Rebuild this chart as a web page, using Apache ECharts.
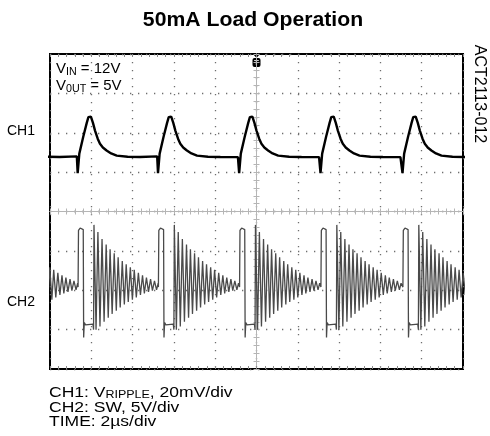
<!DOCTYPE html>
<html>
<head>
<meta charset="utf-8">
<script src="https://cdn.jsdelivr.net/npm/echarts@6/dist/echarts.min.js"></script>
<style>
  html, body { margin: 0; padding: 0; background: #fff; }
  #chart { width: 490px; height: 436px; }
</style>
</head>
<body>
<div id="chart"></div>
<script>
// time in us (2us/div, 10 div), CH1 in mV (20mV/div), CH2 in V (5V/div)
// rising edges of SW (first one is the previous cycle, off screen)
const pulseStarts = [-2.54, 1.36, 5.25, 9.18, 13.12, 17.09]

// CH1 ripple around one switching edge, offset from the edge
const ch1T = [-0.06, -0.03, -0.02, 0.06, 0.25, 0.42, 0.5, 0.56, 0.62, 0.72, 0.82, 0.95, 1.06, 1.2, 1.38, 1.6, 1.87, 2.4, 3.0, 3.85]
const ch1V = [-12, -12.4, -20.5, -10.6, -2, 5, 7.9, 8.7, 8.2, 5, 1.1, -3, -5.6, -7.5, -9, -10.5, -11.6, -12.2, -12.3, -12.4]

// CH2 switch node: high pulse, low, then ringing (tops / bottoms)
const ch2T = [0, 0.02, 0.1, 0.25, 0.27, 0.3, 0.36, 0.72, 0.75,
  0.77, 0.87, 0.96, 1.06, 1.16, 1.26, 1.36, 1.46, 1.55, 1.65, 1.75, 1.85, 1.94, 2.04, 2.14, 2.24,
  2.33, 2.43, 2.53, 2.63, 2.72, 2.82, 2.92, 3.02, 3.12, 3.21, 3.31, 3.41, 3.51, 3.60, 3.70, 3.80, 3.88]
const ch2V = [4.8, 12.0, 12.3, 12.1, -1.6, 0.3, 0.0, 0.1, -0.6,
  12.7, -0.6, 11.8, -0.2, 10.9, 0.4, 10.2, 0.9, 9.6, 1.4, 9.1, 1.8, 8.6, 2.2, 8.1, 2.6,
  7.7, 2.9, 7.3, 3.2, 7.0, 3.5, 6.6, 3.8, 6.3, 4.0, 6.0, 4.2, 5.8, 4.35, 5.6, 4.45, 5.3]

function buildTrace(shapeT, shapeV) {
  let out = []
  pulseStarts.forEach((s, i) => {
    let next = i + 1 < pulseStarts.length ? pulseStarts[i + 1] + shapeT[0] : Infinity
    shapeT.forEach((dt, j) => {
      if (s + dt < next) out.push([s + dt, shapeV[j]])
    })
  })
  return out
}

const dotted = {show: true, lineStyle: {color: '#6e6e6e', width: 1.3, type: [1.3, 6.7]}}
const font = 'Liberation Sans'

function centerX(inside) {
  return {
    type: 'value', min: 0, max: 20, interval: 2, position: 'bottom',
    axisLine: {show: true, onZero: true, onZeroAxisIndex: 0, lineStyle: {color: '#b5b5b5', width: 1}},
    axisTick: {show: true, inside: inside, length: 3, lineStyle: {color: '#b5b5b5'}},
    minorTick: {show: true, splitNumber: 5, length: 3, lineStyle: {color: '#b5b5b5'}},
    axisLabel: {show: false}, splitLine: {show: false}
  }
}
function centerY(inside) {
  return {
    type: 'value', min: -4, max: 4, interval: 1, position: 'left',
    axisLine: {show: true, onZero: true, onZeroAxisIndex: 3, lineStyle: {color: '#b5b5b5', width: 1}},
    axisTick: {show: true, inside: inside, length: 3, lineStyle: {color: '#b5b5b5'}},
    minorTick: {show: true, splitNumber: 5, length: 3, lineStyle: {color: '#b5b5b5'}},
    axisLabel: {show: false}, splitLine: {show: false}
  }
}

let chart = echarts.init(document.getElementById('chart'), null, {renderer: 'canvas'})
chart.setOption({
  animation: false,
  backgroundColor: '#fff',
  textStyle: {fontFamily: font},
  grid: {left: 50, right: 27, top: 54, bottom: 67, show: true, borderColor: '#000', borderWidth: 2, backgroundColor: 'transparent'},
  xAxis: [
    {type: 'value', min: 0, max: 20, interval: 2, position: 'bottom',
      axisLine: {show: false, onZero: false}, axisLabel: {show: false},
      axisTick: {show: true, inside: true, length: 3, lineStyle: {color: '#8a8a8a'}},
      minorTick: {show: true, splitNumber: 5, length: 3, lineStyle: {color: '#8a8a8a'}},
      splitLine: dotted},
    centerX(false),
    centerX(true),
    {type: 'value', min: -5, max: 5, show: false},
    {type: 'value', min: 0, max: 20, interval: 2, position: 'top',
      axisLine: {show: false, onZero: false}, axisLabel: {show: false},
      axisTick: {show: true, inside: true, length: 3, lineStyle: {color: '#8a8a8a'}},
      minorTick: {show: true, splitNumber: 5, length: 3, lineStyle: {color: '#8a8a8a'}},
      splitLine: {show: false}}
  ],
  yAxis: [
    {type: 'value', min: -4, max: 4, interval: 1, axisLine: {show: false, onZero: false},
      axisLabel: {show: false}, axisTick: {show: false}, splitLine: dotted},
    centerY(false),
    centerY(true),
    {type: 'value', min: -120, max: 40, show: false},
    {type: 'value', min: -5.6, max: 34.4, show: false}
  ],
  graphic: [
    {type: 'text', x: 253, y: 20, scaleX: 1.06, style: {
      text: '50mA Load Operation', fontSize: 20, fontWeight: 'bold', fill: '#000', fontFamily: font,
      align: 'center', verticalAlign: 'middle'}},
    {type: 'text', left: 7, top: 124, style: {text: 'CH1', fontSize: 14, fill: '#000', fontFamily: font}},
    {type: 'text', left: 7, top: 295, style: {text: 'CH2', fontSize: 14, fill: '#000', fontFamily: font}},
    {type: 'text', x: 56, y: 61, scaleX: 1.07, style: {
      text: '{v|V}{s|IN}{v| = 12V}\n{v|V}{s|0UT}{v| = 5V}', fill: '#000', fontFamily: font,
      rich: {
        v: {fontSize: 14, lineHeight: 17, fontFamily: font},
        s: {fontSize: 10, lineHeight: 17, padding: [6, 0, 0, 0], fontFamily: font}
      }
    }},
    {type: 'text', x: 479, y: 94, rotation: -Math.PI / 2, style: {
      text: 'ACT2113-012', fontSize: 16, fill: '#000', align: 'center', verticalAlign: 'middle', fontFamily: font}},
    {type: 'text', x: 49, y: 386, scaleX: 1.25, style: {
      text: '{v|CH1: V}{s|RIPPLE}{v|, 20mV/div}\n{v|CH2: SW, 5V/div}\n{v|TIME: 2µs/div}', fill: '#000',
      rich: {
        v: {fontSize: 14, lineHeight: 14.5, fontFamily: font},
        s: {fontSize: 10, lineHeight: 14.5, padding: [4, 0, 0, 0], fontFamily: font}
      }
    }},
    // trigger marker
    {type: 'polygon', shape: {points: [[253, 54], [260, 54], [256.5, 58]]}, style: {fill: '#000'}},
    {type: 'rect', shape: {x: 252.5, y: 58, width: 8, height: 9, r: 2}, style: {fill: '#000'}},
    {type: 'text', x: 256.5, y: 62.5, style: {text: 'T', fontSize: 8, fontWeight: 'bold', fill: '#fff', align: 'center', verticalAlign: 'middle'}}
  ],
  series: [
    {name: 'CH2', type: 'line', xAxisIndex: 0, yAxisIndex: 4, data: buildTrace(ch2T, ch2V),
      showSymbol: false, symbol: 'none', lineStyle: {color: '#4a4a4a', width: 1.3}, clip: true},
    {name: 'CH1', type: 'line', xAxisIndex: 0, yAxisIndex: 3, data: buildTrace(ch1T, ch1V),
      showSymbol: false, symbol: 'none', lineStyle: {color: '#000', width: 2.4}, clip: true}
  ]
})
</script>
</body>
</html>
